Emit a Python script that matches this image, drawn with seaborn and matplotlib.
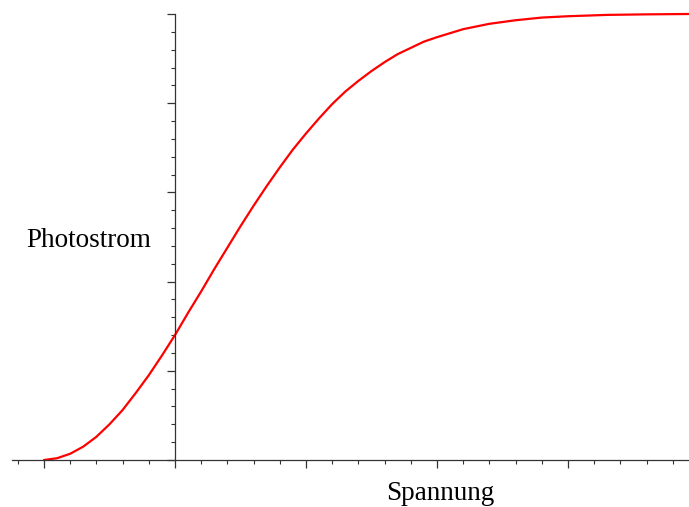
import matplotlib

matplotlib.use("Agg")

import matplotlib.pyplot as plt
import matplotlib.ticker as mticker
import pandas as pd
import seaborn as sns

# Werte (Einheiten = Hauptteilstriche)
spannung = [-1.0, -0.9, -0.8, -0.7, -0.6, -0.5, -0.4, -0.3, -0.2, -0.1,
            0.0, 0.1, 0.2, 0.3, 0.4, 0.5, 0.6, 0.7, 0.8, 0.9,
            1.0, 1.1, 1.2, 1.3, 1.4, 1.5, 1.6, 1.7, 1.8, 1.9,
            2.0, 2.2, 2.4, 2.6, 2.8, 3.0, 3.3, 3.6, 3.92]
photostrom = [0.0, 0.02, 0.07, 0.15, 0.26, 0.40, 0.56, 0.75, 0.95, 1.17,
              1.40, 1.65, 1.89, 2.14, 2.38, 2.62, 2.85, 3.07, 3.28, 3.48,
              3.66, 3.83, 3.99, 4.13, 4.25, 4.36, 4.46, 4.55, 4.62, 4.69,
              4.74, 4.83, 4.89, 4.93, 4.96, 4.975, 4.99, 4.996, 5.0]

x_haupt = [-1, 0, 1, 2, 3]
y_haupt = [0, 1, 2, 3, 4, 5]

sns.set_theme(style="white")
plt.rcParams["font.family"] = ["Liberation Serif", "DejaVu Serif"]

df = pd.DataFrame({"Spannung": spannung, "Photostrom": photostrom})

fig = plt.figure(figsize=(6.89, 5.07), dpi=100)
ax = fig.add_axes([12 / 689, 1 - 460 / 507, 677 / 689, 446 / 507])

sns.lineplot(data=df, x="Spannung", y="Photostrom", ax=ax, color="red",
             linewidth=1.6, clip_on=False)

ax.set_xlim(-1.244, 3.924)
ax.set_ylim(0, 5)

for seite in ("top", "right"):
    ax.spines[seite].set_visible(False)
ax.spines["left"].set_position(("data", 0))
ax.spines["bottom"].set_position(("data", 0))
for seite in ("left", "bottom"):
    ax.spines[seite].set_color("#333333")
    ax.spines[seite].set_linewidth(0.9)

ax.set_xticks(x_haupt)
ax.set_yticks(y_haupt)
ax.xaxis.set_minor_locator(mticker.MultipleLocator(0.2))
ax.yaxis.set_minor_locator(mticker.MultipleLocator(0.2))
ax.tick_params(which="major", direction="out", length=6, width=0.9,
               color="#333333", labelbottom=False, labelleft=False,
               bottom=True, left=True)
ax.tick_params(which="minor", direction="out", length=3, width=0.8,
               color="#333333", bottom=True, left=True)
ax.set_xlabel("")
ax.set_ylabel("")

fig.text(89 / 689, 1 - 247 / 507, "Photostrom", ha="center", va="baseline",
         fontsize=19.5, color="black")
fig.text(440 / 689, 1 - 500 / 507, "Spannung", ha="center", va="baseline",
         fontsize=19.5, color="black")

fig.savefig("out.png", dpi=100)
